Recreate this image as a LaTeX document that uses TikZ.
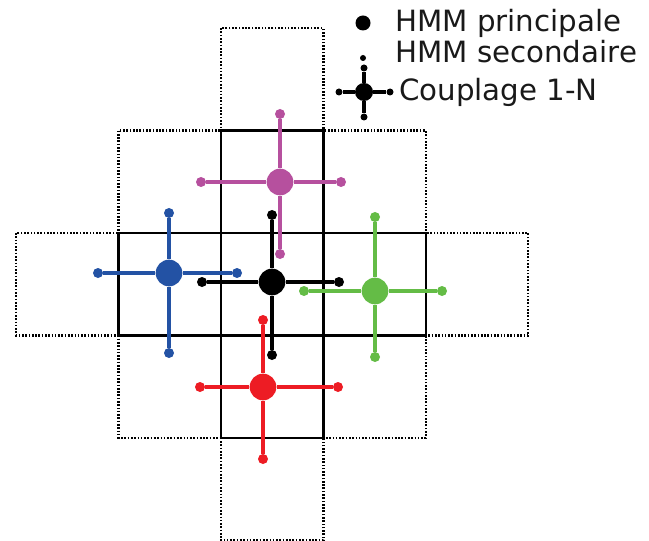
\documentclass[tikz,border=0pt]{standalone}
\usepackage{fontspec}
\setmainfont{DejaVu Sans}
\usetikzlibrary{positioning}
\definecolor{hmmviolet}{RGB}{182,80,158}
\definecolor{hmmblue}{RGB}{35,82,164}
\definecolor{hmmgreen}{RGB}{100,188,70}
\definecolor{hmmred}{RGB}{237,28,36}

\begin{document}
\begin{tikzpicture}[x=0.03cm,y=-0.03cm,
  hub/.style={circle,fill,inner sep=0pt,minimum size=0.8cm},
  tip/.style={circle,fill,inner sep=0pt,minimum size=0.3cm},
  arm/.style={line width=4.2pt},
  cell/.style={line width=2.1pt},
  far cell/.style={line width=1.9pt,dash pattern=on 1.4pt off 1.4pt},
  legend/.style={anchor=base west,inner sep=0pt,text=black!90,
    font=\fontsize{25}{25}\selectfont}]
\useasboundingbox (0,0) rectangle (649,541);
% outer ring of cells (dotted), then the inner cross (solid)
\foreach \i/\j in {0/-2,-1/-1,1/-1,-2/0,2/0,-1/1,1/1,0/2}
  \draw[far cell] (221+102.4*\i,233+102.4*\j) rectangle ++(102.4,102.4);
\foreach \i/\j in {0/0,0/-1,-1/0,1/0,0/1}
  \draw[cell] (221+102.4*\i,233+102.4*\j) rectangle ++(102.4,102.4);

% one coupling cross per main HMM
\foreach \n/\x/\y/\l/\r/\t/\b/\c in {
    mid/272/282/202/339/215/355/black,
    up/280/182/201/341/114/254/hmmviolet,
    left/169/273/98/237/213/353/hmmblue,
    right/375/291/304/442/217/357/hmmgreen,
    down/263/387/200/338/320/459/hmmred}{
  \node[hub,\c] (\n) at (\x,\y) {};
  \node[tip,\c] (\n-w) at (\l,\y) {};
  \node[tip,\c] (\n-e) at (\r,\y) {};
  \node[tip,\c] (\n-n) at (\x,\t) {};
  \node[tip,\c] (\n-s) at (\x,\b) {};
  \draw[arm,\c] (\n) -- (\n-w) (\n) -- (\n-e) (\n) -- (\n-n) (\n) -- (\n-s);
}

% legend
\node[hub,minimum size=0.45cm] (main) at (363,23) {};
\node[legend] (main-txt) at (395,32) {HMM principale};
\node[tip,minimum size=0.18cm] (sub) at (363,58) {};
\node[legend] (sub-txt) at (395,63) {HMM secondaire};
\node[hub,minimum size=0.54cm] (key) at (364,92) {};
\node[tip,minimum size=0.21cm] (key-w) at (339,92) {};
\node[tip,minimum size=0.21cm] (key-e) at (390,92) {};
\node[tip,minimum size=0.21cm] (key-n) at (364,68) {};
\node[tip,minimum size=0.21cm] (key-s) at (364,117) {};
\draw[line width=2.7pt] (key) -- (key-w) (key) -- (key-e) (key) -- (key-n) (key) -- (key-s);
\node[legend] (key-txt) at (399,101) {Couplage 1-N};
\end{tikzpicture}
\end{document}
